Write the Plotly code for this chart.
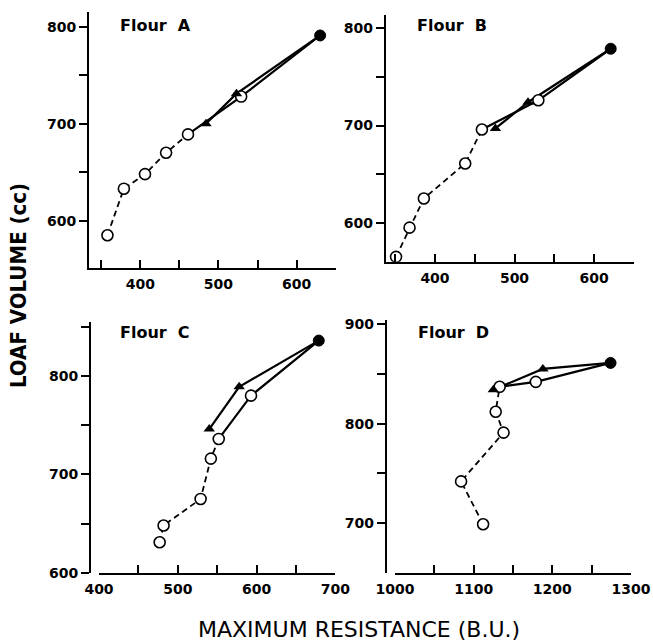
import plotly.graph_objects as go

W, H = 653, 641

# ---------------- data ----------------
A_asc_x = [358, 379, 406, 433, 461, 529]
A_asc_y = [585, 633, 648, 670, 689, 728]
A_peak_x = [630]
A_peak_y = [791]
A_desc_x = [523, 484]
A_desc_y = [731, 700]

B_asc_x = [351, 368, 386, 438, 459, 530]
B_asc_y = [565, 595, 625, 661, 696, 726]
B_peak_x = [621]
B_peak_y = [779]
B_desc_x = [517, 476]
B_desc_y = [724, 697]

C_asc_x = [477, 482, 529, 542, 552, 593]
C_asc_y = [631, 648, 675, 716, 736, 780]
C_peak_x = [679]
C_peak_y = [836]
C_desc_x = [578, 540]
C_desc_y = [789, 746]

D_asc_x = [1112, 1084, 1138, 1128, 1133, 1179]
D_asc_y = [699, 742, 791, 812, 837, 842]
D_peak_x = [1274]
D_peak_y = [861]
D_desc_x = [1188, 1125]
D_desc_y = [855, 834]

titles = ["Flour\u00a0\u00a0A", "Flour\u00a0\u00a0B", "Flour\u00a0\u00a0C", "Flour\u00a0\u00a0D"]

xticks_AB = [350, 400, 450, 500, 550, 600, 650]
xlabels_AB = ["", "400", "", "500", "", "600", ""]
yticks_AB = [600, 650, 700, 750, 800]
ylabels_AB = ["600", "", "700", "", "800"]
xticks_C = [400, 450, 500, 550, 600, 650, 700]
xlabels_C = ["400", "", "500", "", "600", "", "700"]
yticks_C = [600, 650, 700, 750, 800, 850]
ylabels_C = ["600", "", "700", "", "800", ""]
xticks_D = [1000, 1050, 1100, 1150, 1200, 1250, 1300]
xlabels_D = ["1000", "", "1100", "", "1200", "", "1300"]
yticks_D = [700, 750, 800, 850, 900]
ylabels_D = ["700", "", "800", "", "900"]

panels = [
    dict(asc=(A_asc_x, A_asc_y), peak=(A_peak_x, A_peak_y), desc=(A_desc_x, A_desc_y),
         xpx=(89, 336), ypx=(12, 268), xr=[334.4, 650.3], yr=[551.2, 815.2],
         xt=(xticks_AB, xlabels_AB), yt=(yticks_AB, ylabels_AB), ypos=None,
         title=titles[0], tpos=(118, 25)),
    dict(asc=(B_asc_x, B_asc_y), peak=(B_peak_x, B_peak_y), desc=(B_desc_x, B_desc_y),
         xpx=(385.7, 634), ypx=(15, 261.7), xr=[338, 650.3], yr=[560, 813.7],
         xt=(xticks_AB, xlabels_AB), yt=(yticks_AB, ylabels_AB), ypos=None,
         title=titles[1], tpos=(415, 25)),
    dict(asc=(C_asc_x, C_asc_y), peak=(C_peak_x, C_peak_y), desc=(C_desc_x, C_desc_y),
         xpx=(99, 335.3), ypx=(322.3, 572.7), xr=[400, 700], yr=[600, 854.6],
         xt=(xticks_C, xlabels_C), yt=(yticks_C, ylabels_C), ypos=90,
         title=titles[2], tpos=(118, 332)),
    dict(asc=(D_asc_x, D_asc_y), peak=(D_peak_x, D_peak_y), desc=(D_desc_x, D_desc_y),
         xpx=(395, 631), ypx=(320, 573.3), xr=[1000, 1300], yr=[649.7, 904.1],
         xt=(xticks_D, xlabels_D), yt=(yticks_D, ylabels_D), ypos=385.7,
         title=titles[3], tpos=(416, 332)),
]

FONT = "DejaVu Sans"
fig = go.Figure()
layout = dict(template="none", width=W, height=H, margin=dict(l=0, r=0, t=0, b=0, autoexpand=False),
              paper_bgcolor="white", plot_bgcolor="white", showlegend=False,
              annotations=[])

for i, p in enumerate(panels):
    n = "" if i == 0 else str(i + 1)
    xa, ya = "x" + n, "y" + n
    ax_, ay_ = p["asc"]
    px_, py_ = p["peak"]
    dx_, dy_ = p["desc"]
    fig.add_trace(go.Scatter(x=ax_[:5], y=ay_[:5], mode="lines", xaxis=xa, yaxis=ya,
                             line=dict(color="black", width=1.8, dash="6px,4px")))
    fig.add_trace(go.Scatter(x=ax_[4:] + px_, y=ay_[4:] + py_, mode="lines", xaxis=xa, yaxis=ya,
                             line=dict(color="black", width=2.2)))
    fig.add_trace(go.Scatter(x=px_ + dx_, y=py_ + dy_, mode="lines", xaxis=xa, yaxis=ya,
                             line=dict(color="black", width=2.2)))
    fig.add_trace(go.Scatter(x=ax_, y=ay_, mode="markers", xaxis=xa, yaxis=ya,
                             marker=dict(symbol="circle", size=11, color="white",
                                         line=dict(color="black", width=1.6))))
    fig.add_trace(go.Scatter(x=dx_, y=dy_, mode="markers", xaxis=xa, yaxis=ya,
                             marker=dict(symbol="triangle-up", size=10, color="black",
                                         line=dict(color="black", width=0))))
    fig.add_trace(go.Scatter(x=px_, y=py_, mode="markers", xaxis=xa, yaxis=ya,
                             marker=dict(symbol="circle", size=11, color="black",
                                         line=dict(color="black", width=1))))

    x0, x1 = p["xpx"]
    yt, yb = p["ypx"]
    xdom = [x0 / W, x1 / W]
    ydom = [1 - yb / H, 1 - yt / H]
    layout["xaxis" + n] = dict(
        domain=xdom, range=p["xr"], anchor=ya, showgrid=False, zeroline=False,
        showline=True, linecolor="black", linewidth=2, mirror=False, automargin=False,
        ticks="inside", ticklen=8, tickwidth=1.5, tickcolor="black",
        tickmode="array", tickvals=p["xt"][0], ticktext=p["xt"][1],
        tickfont=dict(family=FONT, size=14, color="black", weight="bold"),
        ticklabelstandoff=2, fixedrange=True)
    yax = dict(
        domain=ydom, range=p["yr"], showgrid=False, zeroline=False, automargin=False,
        showline=True, linecolor="black", linewidth=2,
        ticks="outside", ticklen=8, tickwidth=1.5, tickcolor="black",
        tickmode="array", tickvals=p["yt"][0], ticktext=p["yt"][1],
        tickfont=dict(family=FONT, size=14, color="black", weight="bold"),
        ticklabelstandoff=0, fixedrange=True)
    if p["ypos"] is None:
        yax["anchor"] = xa
    else:
        yax["anchor"] = "free"
        yax["position"] = p["ypos"] / W
    layout["yaxis" + n] = yax

    tx, ty = p["tpos"]
    layout["annotations"].append(dict(
        text=p["title"], x=tx / W, y=1 - ty / H, xref="paper", yref="paper",
        xanchor="left", yanchor="middle", showarrow=False,
        font=dict(family=FONT, size=16, color="black", weight="bold")))

layout["annotations"].append(dict(
    text="LOAF VOLUME (cc)", x=18 / W, y=1 - 286 / H, xref="paper", yref="paper",
    xanchor="center", yanchor="middle", showarrow=False, textangle=-90,
    font=dict(family="DejaVu Sans Condensed", size=22, color="black", weight="bold")))
layout["annotations"].append(dict(
    text="MAXIMUM RESISTANCE (B.U.)", x=359 / W, y=1 - 629 / H, xref="paper", yref="paper",
    xanchor="center", yanchor="middle", showarrow=False,
    font=dict(family="DejaVu Sans", size=22, color="black")))

fig.update_layout(**layout)
fig.write_html(
    "out.html",
    config={"displayModeBar": False, "responsive": False},
    post_script="document.body.style.margin='0';document.body.style.padding='0';"
                "document.body.style.overflow='hidden';",
)
